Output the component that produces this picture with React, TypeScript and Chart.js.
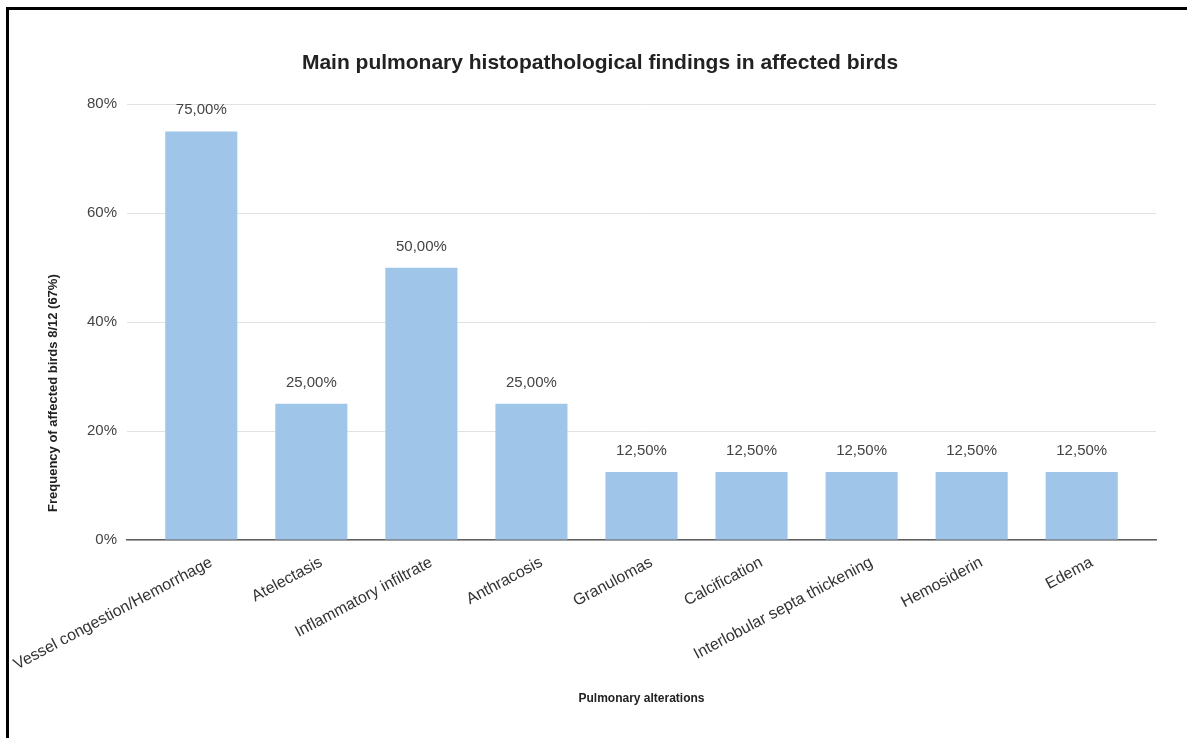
import React, { useEffect, useRef } from 'react';
import { Chart, registerables } from 'chart.js';

Chart.register(...registerables);

// Chart content
const chartTitle = 'Main pulmonary histopathological findings in affected birds';
const xAxisTitle = 'Pulmonary alterations';
const yAxisTitle = 'Frequency of affected birds 8/12 (67%)';

const categories = [
  'Vessel congestion/Hemorrhage',
  'Atelectasis',
  'Inflammatory infiltrate',
  'Anthracosis',
  'Granulomas',
  'Calcification',
  'Interlobular septa thickening',
  'Hemosiderin',
  'Edema',
];

// Percentage of affected birds showing each finding
const frequencies = [75, 25, 50, 25, 12.5, 12.5, 12.5, 12.5, 12.5];

const yTickValues = [0, 20, 40, 60, 80];

const FONT = '"Liberation Sans", Arial, Helvetica, sans-serif';
const BAR_COLOR = '#9fc5e8';

const formatPercent = (v: number) => v.toFixed(2).replace('.', ',') + '%';

// Writes each bar's value above it
const valueLabelPlugin = {
  id: 'valueLabels',
  afterDatasetsDraw(chart: any) {
    const { ctx } = chart;
    const meta = chart.getDatasetMeta(0);
    ctx.save();
    ctx.font = `15px ${FONT}`;
    ctx.fillStyle = '#444444';
    ctx.textAlign = 'center';
    ctx.textBaseline = 'alphabetic';
    meta.data.forEach((bar: any, i: number) => {
      ctx.fillText(formatPercent(frequencies[i]), bar.x, bar.y - 17);
    });
    ctx.restore();
  },
};

// Vertical axis title, centred over the plot plus the slanted category labels
const yTitlePlugin = {
  id: 'yAxisTitle',
  afterDraw(chart: any) {
    const { ctx, chartArea } = chart;
    const yScale = chart.scales.y;
    const xScale = chart.scales.x;
    const cx = yScale.left + 9;
    const cy = (chartArea.top + xScale.bottom - 56) / 2;
    ctx.save();
    ctx.translate(cx, cy);
    ctx.rotate(-Math.PI / 2);
    ctx.font = `bold 13px ${FONT}`;
    ctx.fillStyle = '#222222';
    ctx.textAlign = 'center';
    ctx.textBaseline = 'middle';
    ctx.fillText(yAxisTitle, 0, 0);
    ctx.restore();
  },
};

export default function App() {
  const canvasRef = useRef<HTMLCanvasElement>(null);

  useEffect(() => {
    if (!canvasRef.current) return;
    const chart = new Chart(canvasRef.current, {
      type: 'bar',
      data: {
        datasets: [
          {
            label: yAxisTitle,
            data: frequencies.map((y, i) => ({ x: i, y })),
            backgroundColor: BAR_COLOR,
            borderWidth: 0,
            barPercentage: 0.655,
            categoryPercentage: 1,
          },
        ],
      },
      options: {
        animation: false,
        responsive: true,
        maintainAspectRatio: false,
        layout: { padding: { left: 35, right: 31, top: 0, bottom: 0 } },
        plugins: {
          legend: { display: false },
          tooltip: { enabled: false },
          title: {
            display: true,
            text: chartTitle,
            color: '#222222',
            font: { family: FONT, size: 21, weight: 'bold' },
            padding: { top: 41, bottom: 28 },
          },
        },
        scales: {
          x: {
            type: 'linear',
            offset: false,
            min: -0.675,
            max: categories.length - 1 + 0.675,
            afterBuildTicks: (scale: any) => {
              scale.ticks = categories.map((_, i) => ({ value: i }));
            },
            afterFit: (scale: any) => {
              scale.height = 198;
              scale.paddingLeft = 0;
              scale.paddingRight = 0;
            },
            ticks: {
              autoSkip: false,
              minRotation: 28,
              maxRotation: 28,
              padding: 13,
              labelOffset: 10,
              color: '#333333',
              font: { family: FONT, size: 16 },
              callback: (value: any) => categories[value as number] ?? '',
            },
            grid: { display: false, drawTicks: false, offset: false },
            border: { display: true, color: '#5f5f5f', width: 1.5 },
            title: {
              display: true,
              text: xAxisTitle,
              color: '#222222',
              font: { family: FONT, size: 12, weight: 'bold' },
              padding: { top: 0, bottom: 32 },
            },
          },
          y: {
            min: 0,
            max: 80,
            afterBuildTicks: (scale: any) => {
              scale.ticks = yTickValues.map((v) => ({ value: v }));
            },
            afterFit: (scale: any) => {
              scale.width = 83;
            },
            ticks: {
              padding: 10,
              color: '#444444',
              font: { family: FONT, size: 15 },
              callback: (value: any) => `${value}%`,
            },
            grid: { color: '#e2e2e2', lineWidth: 1, drawTicks: false },
            border: { display: false },
            title: { display: false },
          },
        },
      },
      plugins: [valueLabelPlugin, yTitlePlugin],
    });
    return () => chart.destroy();
  }, []);

  return (
    <div
      style={{
        position: 'absolute',
        left: 0,
        top: 0,
        width: 1187,
        height: 738,
        background: '#ffffff',
        overflow: 'hidden',
      }}
    >
      <div
        style={{
          position: 'absolute',
          left: 6,
          top: 7,
          right: 0,
          bottom: 0,
          borderTop: '3px solid #000',
          borderLeft: '3px solid #000',
        }}
      />
      <div style={{ position: 'absolute', left: 9, top: 10, width: 1178, height: 728 }}>
        <canvas ref={canvasRef} />
      </div>
    </div>
  );
}
